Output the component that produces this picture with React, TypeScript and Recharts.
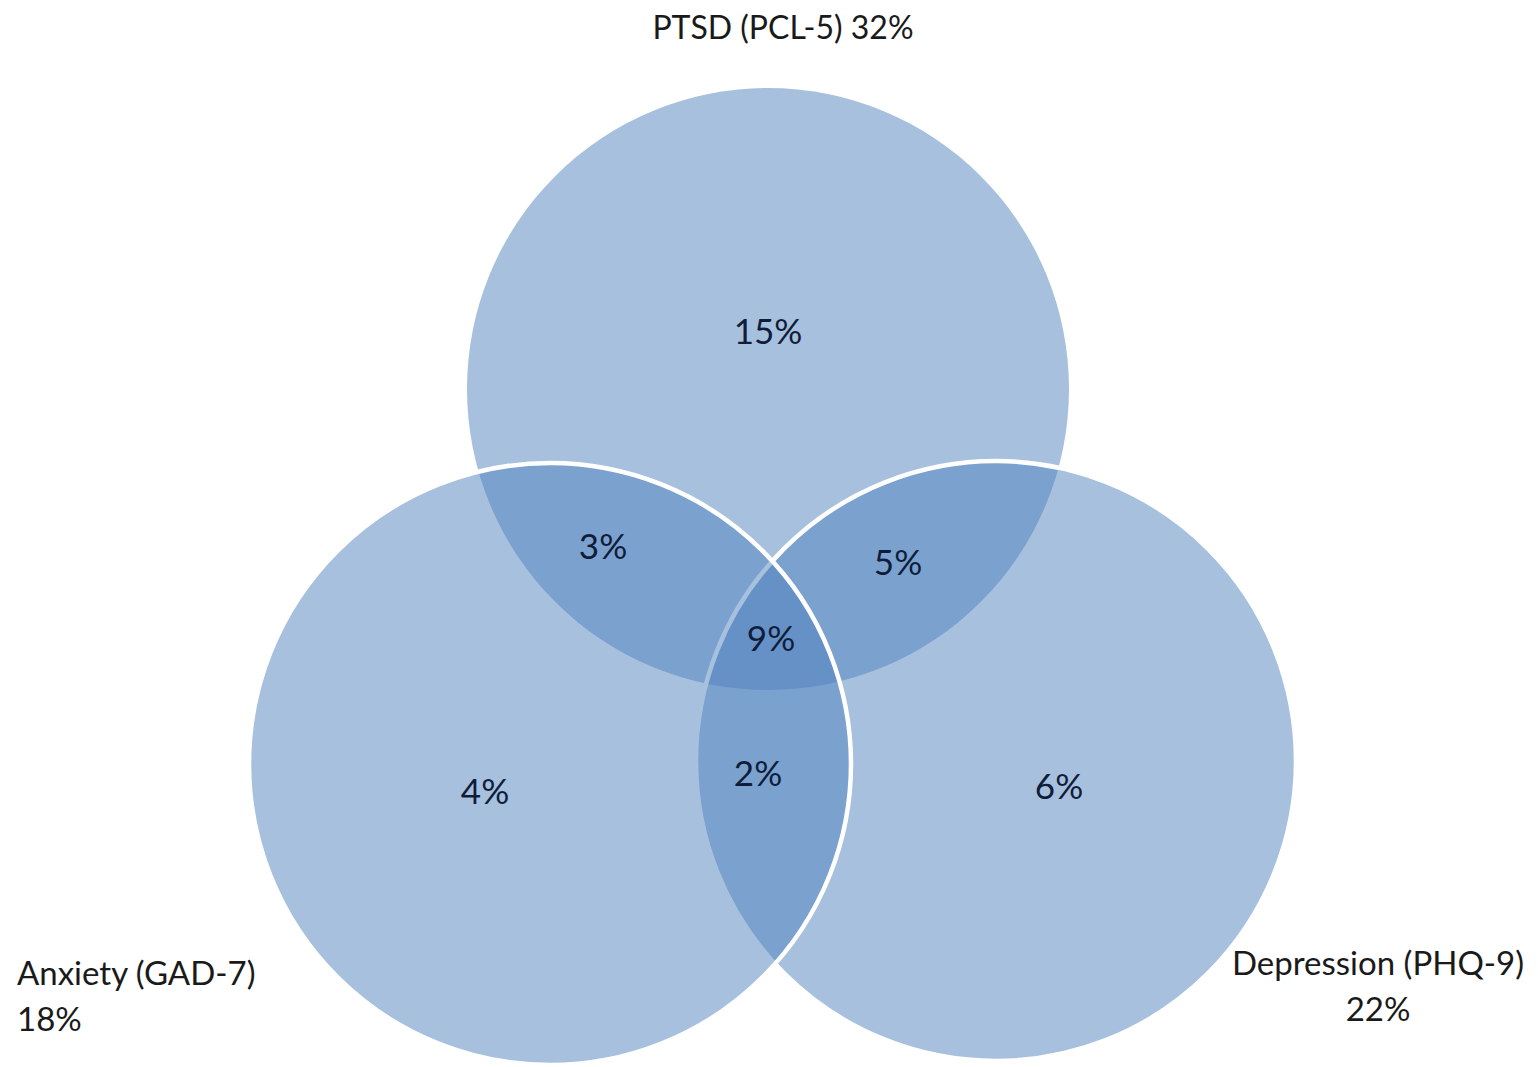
import { ScatterChart, Scatter, XAxis, YAxis } from "recharts";

// Sets (drawn in this order: PTSD, Depression, Anxiety)
const setNames = ["PTSD (PCL-5)", "Depression (PHQ-9)", "Anxiety (GAD-7)"];
const setTotals = [32, 22, 18];
const setCenterX = [768, 996, 550];
const setCenterY = [389, 761, 764];
const setRadius = [301, 300, 301];
const setOutline = [false, true, true];

// Region percentages
const regionValues = [15, 3, 5, 9, 2, 4, 6];
const regionX = [768, 603, 898, 771, 758, 485, 1059];
const regionY = [330, 545, 561, 637, 772, 790, 785];

// Set name label anchors
const nameX = [783, 1378, 17];
const nameY = [26, 962, 972];
const nameAnchor = ["middle", "middle", "start"];
const nameOneLine = [true, false, false];

const W = 1538;
const H = 1067;
const FONT = "Lato, 'Open Sans', sans-serif";

const circles = setNames.map((name, i) => ({
  name,
  x: setCenterX[i],
  y: setCenterY[i],
  r: setRadius[i],
  outline: setOutline[i],
}));

const regions = regionValues.map((v, i) => ({ x: regionX[i], y: regionY[i], v }));

const names = setNames.map((name, i) => ({
  x: nameX[i],
  y: nameY[i],
  name,
  total: setTotals[i],
  anchor: nameAnchor[i],
  oneLine: nameOneLine[i],
}));

// axes span the full plot 1:1, so data radius == pixel radius
const CircleShape = (props: any) => {
  const { cx, cy, payload } = props;
  return (
    <circle
      cx={cx}
      cy={cy}
      r={payload.r}
      fill="#4f81bd"
      fillOpacity={0.5}
      stroke={payload.outline ? "#ffffff" : "none"}
      strokeWidth={payload.outline ? 4.5 : 0}
    />
  );
};

const RegionLabel = (props: any) => {
  const { cx, cy, payload } = props;
  return (
    <text x={cx} y={cy} textAnchor="middle" dominantBaseline="central" fontFamily={FONT} fontSize={35} fill="#0f1d3a">
      {payload.v}%
    </text>
  );
};

const NameLabel = (props: any) => {
  const { cx, cy, payload } = props;
  if (payload.oneLine) {
    return (
      <text x={cx} y={cy} textAnchor={payload.anchor} dominantBaseline="central" fontFamily={FONT} fontSize={32} fill="#1a1a1a">
        {payload.name} {payload.total}%
      </text>
    );
  }
  return (
    <text textAnchor={payload.anchor} dominantBaseline="central" fontFamily={FONT} fontSize={33} fill="#1a1a1a">
      <tspan x={cx} y={cy}>
        {payload.name}
      </tspan>
      <tspan x={cx} y={cy + 46}>
        {payload.total}%
      </tspan>
    </text>
  );
};

export default function App() {
  return (
    <div style={{ position: "absolute", left: 0, top: 0, background: "#ffffff" }}>
      <ScatterChart width={W} height={H} margin={{ top: 0, right: 0, bottom: 0, left: 0 }}>
        <XAxis type="number" dataKey="x" domain={[0, W]} hide />
        <YAxis type="number" dataKey="y" domain={[0, H]} reversed hide />
        <Scatter data={circles} shape={CircleShape} isAnimationActive={false} />
        <Scatter data={regions} shape={RegionLabel} isAnimationActive={false} />
        <Scatter data={names} shape={NameLabel} isAnimationActive={false} />
      </ScatterChart>
    </div>
  );
}
